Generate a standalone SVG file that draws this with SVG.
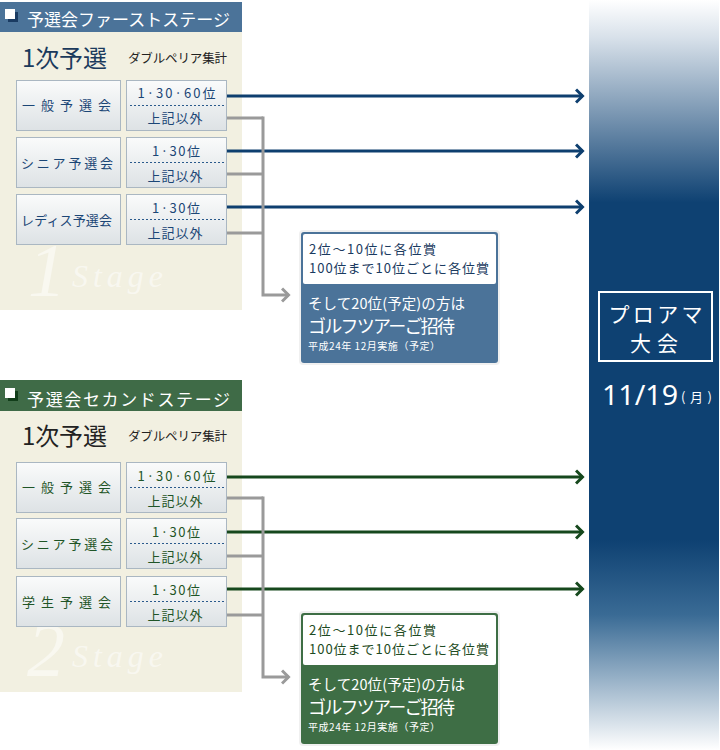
<svg xmlns="http://www.w3.org/2000/svg" width="720" height="750" viewBox="0 0 720 750">
<style>
.jp{font-family:"Noto Sans CJK JP","Noto Sans",sans-serif}
.body{fill:#f2f0e1}
.hdrtxt{font-size:17px;fill:#fff}
.ttl{font-size:24px}
.sub{font-size:12.5px;fill:#222}
.lbox{fill:url(#gbox);stroke:#aab7c2;stroke-width:1}
.ltxt{font-size:13px}
.rtxt{font-size:13px;text-anchor:middle}
.dot{stroke:#2a5a8c;stroke-width:1;stroke-dasharray:2 2}
.wm{font-family:"Liberation Serif",serif;font-style:italic;fill:#fff;fill-opacity:0.5}
.blue{fill:#1b4676}
.green{fill:#1f5527}
.pw{font-size:13px}
.pb{fill:#fff}
.arB{stroke:#0e3f6f;stroke-width:3;fill:none}
.arG{stroke:#16481d;stroke-width:3;fill:none}
.gr{stroke:#9a9a9a;stroke-width:3;fill:none}
</style>
<defs>
<linearGradient id="gbox" x1="0" y1="0" x2="0" y2="1">
<stop offset="0" stop-color="#fafbfb"/><stop offset="1" stop-color="#dde2e5"/>
</linearGradient>
<linearGradient id="gcol" x1="0" y1="0" x2="0" y2="1">
<stop offset="0" stop-color="#ffffff"/>
<stop offset="0.05" stop-color="#d8e1ea"/>
<stop offset="0.27" stop-color="#0e4172"/>
<stop offset="0.72" stop-color="#0e4172"/>
<stop offset="0.82" stop-color="#3a6b95"/>
<stop offset="1" stop-color="#ffffff"/>
</linearGradient>
<marker id="mB" viewBox="0 0 10 16" refX="8.5" refY="8" markerWidth="10" markerHeight="16" markerUnits="userSpaceOnUse" orient="auto">
<path d="M1.5,1.5 L8,8 L1.5,14.5" fill="none" stroke="#0e3f6f" stroke-width="3"/>
</marker>
<marker id="mG" viewBox="0 0 10 16" refX="8.5" refY="8" markerWidth="10" markerHeight="16" markerUnits="userSpaceOnUse" orient="auto">
<path d="M1.5,1.5 L8,8 L1.5,14.5" fill="none" stroke="#16481d" stroke-width="3"/>
</marker>
<marker id="mR" viewBox="0 0 10 16" refX="8.5" refY="8" markerWidth="10" markerHeight="16" markerUnits="userSpaceOnUse" orient="auto">
<path d="M1.5,1.5 L8,8 L1.5,14.5" fill="none" stroke="#9a9a9a" stroke-width="3"/>
</marker>
</defs>

<!-- right column -->
<g id="proam">
<rect x="589" y="0" width="130" height="750" fill="url(#gcol)"/>
<rect x="599" y="292" width="113" height="69" fill="none" stroke="#fff" stroke-width="2"/>
<text class="jp" x="655.5" y="322" font-size="21" fill="#fff" text-anchor="middle" textLength="94" lengthAdjust="spacing">プロアマ</text>
<text class="jp" x="654" y="351" font-size="21" fill="#fff" text-anchor="middle" textLength="48" lengthAdjust="spacing">大会</text>
<text x="602" y="405" font-family="'Noto Sans','Liberation Sans',sans-serif" font-size="28" fill="#fff" textLength="76" lengthAdjust="spacingAndGlyphs">11/19</text>
<text class="jp" x="681" y="402" font-size="13" fill="#fff" textLength="31" lengthAdjust="spacing">(月)</text>
</g>

<!-- Stage 1 panel -->
<g id="stage1">
<rect class="body" x="0" y="32" width="242" height="278"/>
<rect x="0" y="2" width="242" height="30" fill="#4b7399"/>
<rect x="8" y="12" width="10" height="10" fill="#1a3b62"/>
<rect x="5" y="9" width="10" height="10" fill="#fff"/>
<text class="jp hdrtxt" x="27" y="26" textLength="203" lengthAdjust="spacing">予選会ファーストステージ</text>
<text class="jp ttl" x="22" y="67" fill="#1b3a5c" textLength="85" lengthAdjust="spacing">1次予選</text>
<text class="jp sub" x="128" y="63" textLength="99" lengthAdjust="spacing">ダブルペリア集計</text>
<text class="wm" x="28" y="296" font-size="76">1</text>
<text class="wm" x="72" y="287" font-size="32" textLength="91" lengthAdjust="spacing">Stage</text>
</g>

<g id="s1-ippan">
<rect class="lbox" x="16.5" y="80.5" width="104" height="50"/>
<text class="jp ltxt blue" x="22" y="110" letter-spacing="6">一般予選会</text>
<rect class="lbox" x="126.5" y="80.5" width="100" height="50"/>
<line class="dot" x1="130" y1="105.5" x2="224" y2="105.5"/>
<text class="jp rtxt blue" x="176.5" y="98" textLength="78" lengthAdjust="spacing">1·30·60位</text>
<text class="jp rtxt blue" x="175" y="123" textLength="55" lengthAdjust="spacing">上記以外</text>
</g>
<g id="s1-senior">
<rect class="lbox" x="16.5" y="137.5" width="104" height="50"/>
<text class="jp ltxt blue" x="21" y="168" textLength="92" lengthAdjust="spacing">シニア予選会</text>
<rect class="lbox" x="126.5" y="137.5" width="100" height="50"/>
<line class="dot" x1="130" y1="162.5" x2="224" y2="162.5"/>
<text class="jp rtxt blue" x="176" y="156" textLength="48" lengthAdjust="spacing">1·30位</text>
<text class="jp rtxt blue" x="175" y="181" textLength="55" lengthAdjust="spacing">上記以外</text>
</g>
<g id="s1-ladies">
<rect class="lbox" x="16.5" y="194.5" width="104" height="50"/>
<text class="jp ltxt blue" x="21" y="225" textLength="91" lengthAdjust="spacing">レディス予選会</text>
<rect class="lbox" x="126.5" y="194.5" width="100" height="50"/>
<line class="dot" x1="130" y1="219.5" x2="224" y2="219.5"/>
<text class="jp rtxt blue" x="176" y="213" textLength="48" lengthAdjust="spacing">1·30位</text>
<text class="jp rtxt blue" x="175" y="238" textLength="55" lengthAdjust="spacing">上記以外</text>
</g>

<g id="s1-prize">
<rect x="299" y="230" width="201" height="135" rx="4" fill="#000" fill-opacity="0.06"/>
<rect x="301" y="232" width="197" height="131" rx="3" fill="#4b7399"/>
<rect x="303" y="234" width="193" height="50" rx="2" fill="#fff"/>
<text class="jp pw" x="309" y="254" fill="#1a3a60" textLength="127" lengthAdjust="spacing">2位～10位に各位賞</text>
<text class="jp pw" x="309" y="273" fill="#1a3a60" textLength="180" lengthAdjust="spacing">100位まで10位ごとに各位賞</text>
<text class="jp pb" x="308" y="309" font-size="14.5" textLength="157" lengthAdjust="spacing">そして20位(予定)の方は</text>
<text class="jp pb" x="308" y="333" font-size="18" textLength="147" lengthAdjust="spacing">ゴルフツアーご招待</text>
<text class="jp pb" x="308" y="350" font-size="10" textLength="132" lengthAdjust="spacing">平成24年 12月実施（予定）</text>
</g>

<!-- Stage 2 panel -->
<g id="stage2">
<rect class="body" x="0" y="411" width="242" height="281"/>
<rect x="0" y="380" width="242" height="31" fill="#3f6b47"/>
<rect x="8" y="391" width="10" height="10" fill="#123e1a"/>
<rect x="5" y="388" width="10" height="10" fill="#fff"/>
<text class="jp hdrtxt" x="27" y="406" textLength="203" lengthAdjust="spacing">予選会セカンドステージ</text>
<text class="jp ttl" x="22" y="445" fill="#222" textLength="85" lengthAdjust="spacing">1次予選</text>
<text class="jp sub" x="128" y="441" textLength="99" lengthAdjust="spacing">ダブルペリア集計</text>
<text class="wm" x="27" y="676" font-size="76">2</text>
<text class="wm" x="72" y="667" font-size="32" textLength="91" lengthAdjust="spacing">Stage</text>
</g>

<g id="s2-ippan">
<rect class="lbox" x="16.5" y="462.5" width="104" height="50"/>
<text class="jp ltxt green" x="22" y="492" letter-spacing="6">一般予選会</text>
<rect class="lbox" x="126.5" y="462.5" width="100" height="50"/>
<line class="dot" x1="130" y1="487.5" x2="224" y2="487.5"/>
<text class="jp rtxt green" x="176.5" y="481" textLength="78" lengthAdjust="spacing">1·30·60位</text>
<text class="jp rtxt green" x="175" y="506" textLength="55" lengthAdjust="spacing">上記以外</text>
</g>
<g id="s2-senior">
<rect class="lbox" x="16.5" y="518.5" width="104" height="50"/>
<text class="jp ltxt green" x="21" y="549" textLength="92" lengthAdjust="spacing">シニア予選会</text>
<rect class="lbox" x="126.5" y="518.5" width="100" height="50"/>
<line class="dot" x1="130" y1="543.5" x2="224" y2="543.5"/>
<text class="jp rtxt green" x="176" y="537" textLength="48" lengthAdjust="spacing">1·30位</text>
<text class="jp rtxt green" x="175" y="562" textLength="55" lengthAdjust="spacing">上記以外</text>
</g>
<g id="s2-student">
<rect class="lbox" x="16.5" y="576.5" width="104" height="50"/>
<text class="jp ltxt green" x="22" y="607" letter-spacing="6">学生予選会</text>
<rect class="lbox" x="126.5" y="576.5" width="100" height="50"/>
<line class="dot" x1="130" y1="601.5" x2="224" y2="601.5"/>
<text class="jp rtxt green" x="176" y="595" textLength="48" lengthAdjust="spacing">1·30位</text>
<text class="jp rtxt green" x="175" y="620" textLength="55" lengthAdjust="spacing">上記以外</text>
</g>

<g id="s2-prize">
<rect x="299" y="611" width="201" height="135" rx="4" fill="#000" fill-opacity="0.06"/>
<rect x="301" y="613" width="197" height="131" rx="3" fill="#3e6e45"/>
<rect x="303" y="615" width="193" height="50" rx="2" fill="#fff"/>
<text class="jp pw" x="309" y="635" fill="#1d4a22" textLength="127" lengthAdjust="spacing">2位～10位に各位賞</text>
<text class="jp pw" x="309" y="654" fill="#1d4a22" textLength="180" lengthAdjust="spacing">100位まで10位ごとに各位賞</text>
<text class="jp pb" x="308" y="690" font-size="14.5" textLength="157" lengthAdjust="spacing">そして20位(予定)の方は</text>
<text class="jp pb" x="308" y="714" font-size="18" textLength="147" lengthAdjust="spacing">ゴルフツアーご招待</text>
<text class="jp pb" x="308" y="731" font-size="10" textLength="132" lengthAdjust="spacing">平成24年 12月実施（予定）</text>
</g>

<!-- connectors -->
<g id="connectors">
<line class="arB" x1="227" y1="96" x2="583" y2="96" marker-end="url(#mB)"/>
<line class="arB" x1="227" y1="151" x2="583" y2="151" marker-end="url(#mB)"/>
<line class="arB" x1="227" y1="207" x2="583" y2="207" marker-end="url(#mB)"/>
<polyline class="gr" points="227,118 263,118"/>
<polyline class="gr" points="227,174 263,174"/>
<polyline class="gr" points="227,233 263,233"/>
<polyline class="gr" points="263,116.5 263,295 289,295" marker-end="url(#mR)"/>

<line class="arG" x1="227" y1="477" x2="583" y2="477" marker-end="url(#mG)"/>
<line class="arG" x1="227" y1="532" x2="583" y2="532" marker-end="url(#mG)"/>
<line class="arG" x1="227" y1="589" x2="583" y2="589" marker-end="url(#mG)"/>
<polyline class="gr" points="227,498 263,498"/>
<polyline class="gr" points="227,556 263,556"/>
<polyline class="gr" points="227,615 263,615"/>
<polyline class="gr" points="263,496.5 263,677 289,677" marker-end="url(#mR)"/>
</g>
</svg>
